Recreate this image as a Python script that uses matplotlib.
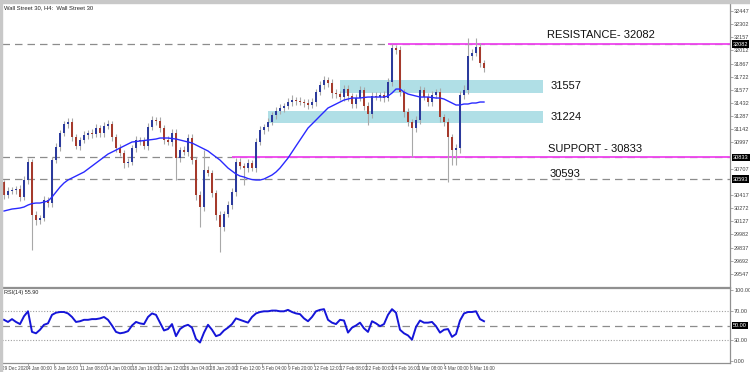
import matplotlib
matplotlib.use('Agg')
import matplotlib.pyplot as plt
import matplotlib.transforms as mtransforms
from matplotlib.patches import Rectangle
import numpy as np

plt.rcParams['font.family'] = ['Liberation Sans', 'DejaVu Sans']

# H4 candles (closes), first open, wick sizes in points
first_open = 30560
close = np.array([
    30417, 30461, 30472, 30483, 30395, 30583, 30781, 30197, 30141, 30163,
    30362, 30329, 30803, 30947, 31101, 31200, 31222, 31057, 30958, 31024,
    31079, 31101, 31090, 31156, 31101, 31178, 31200, 31057, 30936, 30880,
    30770, 30781, 30936, 31024, 31013, 30958, 31167, 31244, 31233, 31156,
    31024, 31002, 31101, 30825, 30913, 30891, 31046, 30803, 30417, 30285,
    30693, 30660, 30439, 30197, 30064, 30208, 30307, 30450, 30781, 30737,
    30715, 30770, 30715, 31002, 31134, 31167, 31222, 31300, 31344, 31377,
    31399, 31443, 31465, 31454, 31443, 31432, 31410, 31443, 31553, 31630,
    31686, 31653, 31542, 31531, 31498, 31586, 31509, 31421, 31487, 31575,
    31399, 31311, 31509, 31498, 31520, 31487, 31664, 32039, 32017, 31553,
    31333, 31222, 31156, 31244, 31575, 31498, 31443, 31520, 31553, 31278,
    31222, 31057, 30913, 30936, 31520, 31575, 31950, 31983, 32050, 31873, 31818])
up_wick = np.array([
    25, 40, 35, 30, 45, 40, 40, 30, 40, 35,
    40, 35, 30, 40, 35, 30, 45, 40, 35, 30,
    40, 35, 45, 40, 35, 40, 50, 35, 30, 40,
    35, 40, 35, 40, 30, 45, 40, 50, 35, 40,
    35, 40, 45, 40, 35, 40, 45, 40, 35, 40,
    220, 40, 35, 30, 40, 35, 40, 45, 50, 40,
    35, 40, 35, 45, 40, 35, 40, 35, 40, 45,
    35, 40, 55, 35, 40, 35, 45, 40, 35, 40,
    45, 35, 40, 45, 35, 40, 50, 35, 40, 45,
    35, 40, 45, 40, 35, 40, 45, 45, 35, 40,
    35, 40, 35, 45, 40, 35, 40, 45, 35, 40,
    35, 40, 35, 45, 40, 60, 200, 45, 100, 40, 35])
dn_wick = np.array([
    40, 35, 30, 40, 45, 35, 40, 390, 50, 40,
    35, 40, 45, 35, 40, 35, 40, 45, 35, 40,
    35, 40, 45, 35, 40, 45, 35, 40, 45, 35,
    50, 40, 35, 40, 45, 35, 40, 35, 45, 40,
    40, 35, 45, 240, 40, 35, 45, 40, 50, 220,
    40, 35, 45, 60, 275, 40, 35, 40, 45, 35,
    190, 40, 35, 40, 35, 40, 45, 35, 40, 35,
    40, 35, 45, 40, 35, 40, 45, 35, 40, 35,
    40, 45, 60, 40, 35, 40, 60, 45, 40, 35,
    45, 120, 40, 35, 45, 40, 35, 40, 45, 40,
    60, 40, 320, 45, 40, 35, 40, 45, 35, 60,
    45, 500, 165, 165, 60, 40, 45, 40, 35, 40, 45])
ma = np.array([
    30241, 30252, 30263, 30268, 30274, 30285, 30307, 30323, 30329, 30329,
    30340, 30351, 30395, 30450, 30505, 30550, 30583, 30605, 30627, 30649,
    30671, 30704, 30737, 30770, 30803, 30836, 30869, 30891, 30913, 30936,
    30958, 30980, 31002, 31007, 31013, 31018, 31024, 31029, 31035, 31046,
    31046, 31046, 31040, 31035, 31024, 31013, 31002, 30991, 30969, 30947,
    30925, 30903, 30869, 30836, 30803, 30759, 30715, 30682, 30649, 30627,
    30616, 30599, 30588, 30583, 30583, 30594, 30616, 30638, 30671, 30715,
    30770, 30825, 30891, 30958, 31024, 31090, 31156, 31200, 31244, 31289,
    31333, 31377, 31399, 31421, 31443, 31465, 31476, 31487, 31487, 31487,
    31493, 31498, 31498, 31498, 31498, 31498, 31509, 31542, 31586, 31586,
    31553, 31531, 31520, 31509, 31498, 31498, 31498, 31493, 31487, 31487,
    31476, 31454, 31432, 31410, 31410, 31421, 31421, 31432, 31432, 31443, 31443])
rsi = np.array([
    58, 55, 59, 55, 52, 63, 70, 41, 39, 44,
    51, 53, 65, 68, 69, 69, 67, 62, 55, 56,
    58, 58, 59, 59, 60, 62, 58, 50, 41, 39,
    40, 42, 50, 55, 53, 52, 62, 67, 65, 54,
    43, 45, 52, 35, 45, 49, 51, 47, 31, 26,
    40, 51, 44, 35, 37, 43, 47, 52, 60, 58,
    56, 54, 62, 67, 69, 70, 70, 71, 71, 70,
    70, 72, 69, 67, 66, 60, 56, 62, 70, 72,
    73, 58, 54, 52, 58, 57, 40, 47, 50, 54,
    46, 41, 56, 53, 49, 52, 65, 73, 68, 44,
    39, 36, 30, 48, 57, 54, 54, 55, 49, 40,
    44, 45, 34, 38, 57, 67, 69, 69, 70, 59, 56])

price_ticks = [32447, 32302, 32157, 32012, 31867, 31722, 31577, 31432, 31287,
               31142, 30997, 30707, 30417, 30272, 30127, 29982,
               29837, 29692, 29547]
time_labels = ['29 Dec 2020', '4 Jan 00:00', '6 Jan 16:00', '11 Jan 08:00',
               '14 Jan 00:00', '18 Jan 16:00', '21 Jan 12:00', '26 Jan 04:00',
               '28 Jan 20:00', '2 Feb 12:00', '5 Feb 04:00', '9 Feb 20:00',
               '12 Feb 12:00', '17 Feb 08:00', '22 Feb 00:00', '24 Feb 16:00',
               '1 Mar 08:00', '4 Mar 00:00', '8 Mar 16:00']

resistance, support, low_level = 32082, 30833, 30593
res_start, sup_start = 96, 57          # candle where the pink line starts
zones = [(31543, 31686, 84, '31557'), (31212, 31344, 66, '31224')]
zone_end = 134.75

up_col, dn_col, wick_col = '#2b3a9c', '#a53a2c', '#a8a8a8'
pink, cyan, grid_grey = '#ee44ee', '#b0dfe6', '#8c8c8c'

fig = plt.figure(figsize=(7.5, 3.72), dpi=100)
fig.patches.append(Rectangle((0, 1 - 3 / 372), 1, 3 / 372, transform=fig.transFigure,
                             color='#c8c8c8', zorder=0))
fig.patches.append(Rectangle((0, 0), 2 / 750, 1, transform=fig.transFigure,
                             color='#c8c8c8', zorder=0))

ax = fig.add_axes([2 / 750, 1 - 287 / 372, 728 / 750, 284 / 372])
ax2 = fig.add_axes([2 / 750, 1 - 363 / 372, 728 / 750, 75 / 372])

x = np.arange(len(close))
opn = np.r_[first_open, close[:-1]]
hi = np.maximum(opn, close) + up_wick
lo = np.minimum(opn, close) - dn_wick

# zones and levels
for zlo, zhi, zs, txt in zones:
    ax.add_patch(Rectangle((zs, zlo), zone_end - zs, zhi - zlo, color=cyan, lw=0, zorder=1))
    ax.text(136.75, (zlo + zhi) / 2, txt, fontsize=8, va='center', ha='left', color='#111111')
for lvl in (resistance, support, low_level):
    ax.axhline(lvl, color=grid_grey, ls=(0, (6, 4)), lw=0.9, zorder=1)
ax.hlines(resistance, res_start, 182, color=pink, lw=1.3, zorder=2)
ax.hlines(support, sup_start, 182, color=pink, lw=1.3, zorder=2)
ax.text(135.75, resistance + 100, 'RESISTANCE- 32082', fontsize=8, va='center', ha='left', color='#111111')
ax.text(136, support + 90, 'SUPPORT - 30833', fontsize=8, va='center', ha='left', color='#111111')
ax.text(136.5, low_level + 56, '30593', fontsize=8, va='center', ha='left', color='#111111')

# candles
ax.vlines(x, lo, hi, color=wick_col, lw=0.8, zorder=3)
ax.bar(x, np.maximum(np.abs(close - opn), 8), bottom=np.minimum(opn, close), width=0.6,
       color=np.where(close >= opn, up_col, dn_col), lw=0, zorder=4)
ax.plot(x, ma, color='#2a2aff', lw=1.0, zorder=5)

ax.set_xlim(-0.5, 181.5)
ax.set_ylim(29403, 32535)
ax.yaxis.tick_right()
ax.set_yticks(price_ticks)
ax.set_yticklabels([str(p) for p in price_ticks])
ax.tick_params(axis='y', labelsize=4, length=2, width=0.5, colors='#888888', labelcolor='#444444', pad=1)
ax.set_xticks([])
for s in ('left', 'top'):
    ax.spines[s].set_visible(False)
for s in ('right', 'bottom'):
    ax.spines[s].set_color('#909090')
    ax.spines[s].set_linewidth(0.9)

bt = mtransforms.blended_transform_factory(ax.transAxes, ax.transData)
for lvl in (resistance, support, low_level):
    ax.text(1.004, lvl, str(lvl), transform=bt, fontsize=4, color='white', va='center', ha='left',
            bbox=dict(facecolor='black', edgecolor='none', pad=0.8), zorder=6)

fig.text(4 / 750, 1 - 8 / 372, 'Wall Street 30, H4:  Wall Street 30', fontsize=4.2, va='center',
         color='#222222')

# RSI panel
ax2.axhline(70, color='#a0a0a0', ls=(0, (1, 1.5)), lw=0.8)
ax2.axhline(30, color='#a0a0a0', ls=(0, (1, 1.5)), lw=0.8)
ax2.axhline(50, color=grid_grey, ls=(0, (6, 4)), lw=0.9)
ax2.plot(x, rsi, color='#1515d8', lw=1.4)
ax2.set_xlim(-0.5, 181.5)
ax2.set_ylim(-2.8, 102.8)
ax2.yaxis.tick_right()
ax2.set_yticks([0, 30, 70, 100])
ax2.set_yticklabels(['0.00', '30.00', '70.00', '100.00'])
ax2.tick_params(axis='y', labelsize=4, length=2, width=0.5, colors='#888888', labelcolor='#444444', pad=1)
bt2 = mtransforms.blended_transform_factory(ax2.transAxes, ax2.transData)
ax2.text(1.004, 50, '50.00', transform=bt2, fontsize=4, color='white', va='center', ha='left',
         bbox=dict(facecolor='black', edgecolor='none', pad=0.8))
ax2.text(0.003, 0.97, 'RSI(14) 55.90', transform=ax2.transAxes, fontsize=4, va='top', color='#222222')

ax2.set_xticks(np.arange(len(time_labels)) * 6.5 - 0.5)
ax2.set_xticklabels(time_labels)
for lab in ax2.get_xticklabels():
    lab.set_horizontalalignment('left')
ax2.tick_params(axis='x', labelsize=3.3, length=2, width=0.5, colors='#888888', labelcolor='#444444', pad=0.3)
ax2.spines['left'].set_visible(False)
for s in ('right', 'bottom', 'top'):
    ax2.spines[s].set_color('#909090')
    ax2.spines[s].set_linewidth(0.9)

fig.savefig('out.png', dpi=100)
